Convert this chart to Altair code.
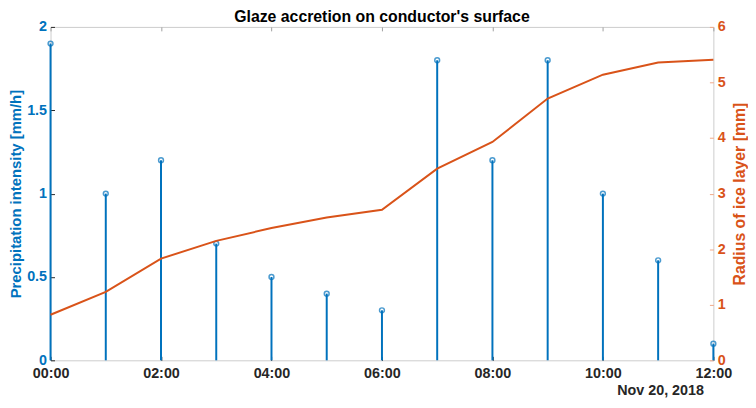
import altair as alt
import pandas as pd

hours = [0, 1, 2, 3, 4, 5, 6, 7, 8, 9, 10, 11, 12]
precip = [1.9, 1.0, 1.2, 0.7, 0.5, 0.4, 0.3, 1.8, 1.2, 1.8, 1.0, 0.6, 0.1]
radius = [0.82, 1.23, 1.83, 2.15, 2.38, 2.57, 2.71, 3.45, 3.93, 4.71, 5.14, 5.36, 5.41]
x_ticks = [0, 2, 4, 6, 8, 10, 12]
left_ticks = [0, 0.5, 1, 1.5, 2]
right_ticks = [0, 1, 2, 3, 4, 5, 6]

df = pd.DataFrame({"hour": hours, "precip": precip, "radius": radius})

BLUE = "#0072BD"
ORANGE = "#D95319"
DARK = "#262626"
FONT = "Liberation Sans"

xscale = alt.Scale(domain=[0, 12], nice=False, zero=False)

x_bottom = alt.X(
    "hour:Q",
    scale=xscale,
    axis=alt.Axis(
        orient="bottom", values=x_ticks,
        labelExpr="(datum.value < 10 ? '0' : '') + datum.value + ':00'",
        offset=-4, tickSize=4, domain=False, grid=False, labelFlush=False,
        labelPadding=6, labelFont=FONT, labelFontSize=14.5, labelFontWeight="bold",
        labelColor=DARK, tickColor=DARK,
        title="Nov 20, 2018", titleFont=FONT, titleFontSize=14.5, titleFontWeight="bold",
        titleColor=DARK, titleAlign="right", titleX=660, titlePadding=4,
    ),
)

y_left = alt.Y(
    "precip:Q",
    scale=alt.Scale(domain=[0, 2], nice=False),
    axis=alt.Axis(
        orient="left", values=left_ticks, labelExpr="'' + datum.value",
        offset=-4, tickSize=4, domain=False, grid=False,
        labelPadding=4, labelFont=FONT, labelFontSize=14.5, labelFontWeight="bold",
        labelColor=BLUE, tickColor=DARK,
        title="Precipitation intensity [mm/h]", titleFont=FONT, titleFontSize=15,
        titleFontWeight="bold", titleColor=BLUE, titlePadding=3,
    ),
)

base = alt.Chart(df).encode(x=x_bottom, y=y_left)
stems = base.mark_rule(color=BLUE, strokeWidth=2).encode(y2=alt.datum(0))
heads = base.mark_point(shape="circle", filled=False, size=24, strokeWidth=1.5, color=BLUE)

line = alt.Chart(df).mark_line(color=ORANGE, strokeWidth=2).encode(
    x=alt.X(
        "hour:Q", scale=xscale,
        axis=alt.Axis(orient="top", values=x_ticks, labels=False, title=None,
                      offset=-4, tickSize=4, domain=False, grid=False, tickColor="#a0a0a0"),
    ),
    y=alt.Y(
        "radius:Q",
        scale=alt.Scale(domain=[0, 6], nice=False),
        axis=alt.Axis(
            orient="right", values=right_ticks, offset=-4, tickSize=4, domain=False, grid=False,
            labelPadding=4, labelFont=FONT, labelFontSize=14.5, labelFontWeight="bold",
            labelColor=ORANGE, tickColor="#f0a888",
            title="Radius of ice layer [mm]", titleFont=FONT, titleFontSize=16,
            titleFontWeight="bold", titleColor=ORANGE, titleAngle=270,
            titleBaseline="top", titlePadding=6,
        ),
    ),
)

chart = (
    alt.layer(stems + heads, line)
    .resolve_scale(y="independent", x="independent")
    .properties(
        width=670, height=337,
        title=alt.TitleParams("Glaze accretion on conductor's surface", font=FONT, fontSize=16,
                              fontWeight="bold", color="#000000", offset=6, dy=12),
        padding={"left": 43, "top": 17, "right": 35, "bottom": 38},
        autosize=alt.AutoSizeParams(type="none"),
        background="white",
    )
    .configure_view(stroke="#cccccc", strokeWidth=1)
)

chart.save("out.html", embed_options={"renderer": "svg", "actions": False})
